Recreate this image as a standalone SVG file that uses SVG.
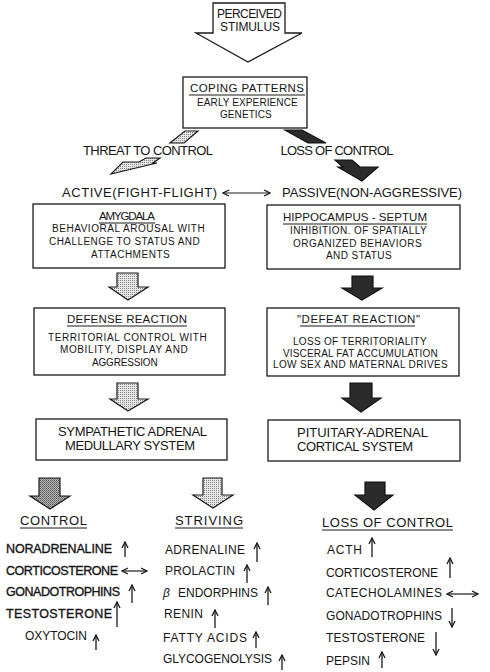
<svg xmlns="http://www.w3.org/2000/svg" width="490" height="672" viewBox="0 0 490 672">
<style>
text{font-family:"Liberation Sans",Arial,sans-serif;fill:#151515}
.box{fill:#fff;stroke:#1a1a1a;stroke-width:1.3}
.t{font-size:11.5px;text-anchor:middle}
.b{font-size:10px;text-anchor:middle;letter-spacing:0.3px}
.s{font-size:13px}
.h{font-size:13px}
.l{font-size:12px}
.lb{font-size:12.5px;stroke:#151515;stroke-width:0.35}
.ul{stroke:#1a1a1a;stroke-width:1.1}
.dot{fill:url(#dots);stroke:#1a1a1a;stroke-width:1.2}
.dark{fill:#2b2b2b;stroke:#111;stroke-width:1.2}
.cross{fill:url(#cross);stroke:#1a1a1a;stroke-width:1.2}
.ar{stroke:#1a1a1a;stroke-width:1.3;fill:none;marker-end:url(#ah)}
.da{stroke:#1a1a1a;stroke-width:1.2;fill:none;marker-end:url(#ah);marker-start:url(#ahs)}
</style>
<defs>
<pattern id="dots" width="2" height="2" patternUnits="userSpaceOnUse">
<rect width="2" height="2" fill="#e6e6e6"/>
<rect width="1" height="1" fill="#8a8a8a"/>
</pattern>
<pattern id="cross" width="2" height="2" patternUnits="userSpaceOnUse">
<rect width="2" height="2" fill="#b5b5b5"/>
<rect width="1" height="1" fill="#555"/>
<rect x="1" y="1" width="1" height="1" fill="#777"/>
</pattern>
<marker id="ah" viewBox="0 0 8 8" refX="7" refY="4" markerWidth="8" markerHeight="8" markerUnits="userSpaceOnUse" orient="auto">
<path d="M1,1 L7,4 L1,7" fill="none" stroke="#1a1a1a" stroke-width="1.3"/>
</marker>
<marker id="ahs" viewBox="0 0 8 8" refX="7" refY="4" markerWidth="8" markerHeight="8" markerUnits="userSpaceOnUse" orient="auto-start-reverse">
<path d="M1,1 L7,4 L1,7" fill="none" stroke="#1a1a1a" stroke-width="1.3"/>
</marker>
</defs>

<g id="stimulus">
<polygon points="213,3 285,3 285,33 302,33 248,62 196,33 213,33" fill="#fff" stroke="#1a1a1a" stroke-width="1.3"/>
<text x="249.5" y="18" font-size="12" text-anchor="middle" textLength="65">PERCEIVED</text>
<text x="250" y="31" font-size="12" text-anchor="middle" textLength="60">STIMULUS</text>
</g>

<g id="coping">
<rect class="box" x="183" y="77" width="124" height="51"/>
<text x="247" y="92" class="t" font-size="12.5" textLength="114">COPING PATTERNS</text>
<line class="ul" x1="189" y1="95" x2="305" y2="95"/>
<text x="247.5" y="106" class="b" textLength="101">EARLY EXPERIENCE</text>
<text x="246" y="118" class="b" textLength="52">GENETICS</text>
</g>

<g id="threat">
<text class="h" x="148" y="155" text-anchor="middle" textLength="130">THREAT TO CONTROL</text>
</g>
<g id="loss">
<text class="h" x="337" y="155" text-anchor="middle" textLength="113">LOSS OF CONTROL</text>
</g>

<g id="active">
<text class="h" x="62" y="197" textLength="155">ACTIVE(FIGHT-FLIGHT)</text>
</g>
<g id="passive">
<text class="h" x="282" y="197" textLength="180">PASSIVE(NON-AGGRESSIVE)</text>
</g>

<g id="amygdala">
<rect class="box" x="33" y="204" width="192" height="64"/>
<text x="127" y="220" class="t" font-size="10.5" textLength="56">AMYGDALA</text>
<line class="ul" x1="99" y1="223" x2="155" y2="223"/>
<text x="128.5" y="232" class="b" textLength="153">BEHAVIORAL AROUSAL WITH</text>
<text x="124.5" y="245" class="b" textLength="151">CHALLENGE TO STATUS AND</text>
<text x="130.5" y="258" class="b" textLength="79">ATTACHMENTS</text>
</g>

<g id="hippocampus">
<rect class="box" x="267" y="205" width="193" height="64"/>
<text x="355" y="221" class="t" textLength="144">HIPPOCAMPUS - SEPTUM</text>
<line class="ul" x1="283" y1="224" x2="427" y2="224"/>
<text x="358.5" y="234" class="b" textLength="137">INHIBITION. OF SPATIALLY</text>
<text x="357.5" y="247" class="b" textLength="129">ORGANIZED BEHAVIORS</text>
<text x="359" y="259" class="b" textLength="66">AND STATUS</text>
</g>

<g id="defense">
<rect class="box" x="34" y="308" width="191" height="67"/>
<text x="127" y="323" class="t" textLength="120">DEFENSE REACTION</text>
<line class="ul" x1="67" y1="326" x2="187" y2="326"/>
<text x="127.5" y="341" class="b" textLength="159">TERRITORIAL CONTROL WITH</text>
<text x="124" y="353" class="b" textLength="128">MOBILITY, DISPLAY AND</text>
<text x="125" y="366" class="b" textLength="66">AGGRESSION</text>
</g>

<g id="defeat">
<rect class="box" x="267" y="308" width="192" height="68"/>
<text x="358.5" y="323" class="t" textLength="123">"DEFEAT REACTION"</text>
<line class="ul" x1="300" y1="326" x2="415" y2="326"/>
<text x="360" y="345" class="b" textLength="134">LOSS OF TERRITORIALITY</text>
<text x="360.5" y="357" class="b" textLength="155">VISCERAL FAT ACCUMULATION</text>
<text x="360.5" y="368" class="b" textLength="175">LOW SEX AND MATERNAL DRIVES</text>
</g>

<g id="sympathetic">
<rect class="box" x="36" y="419" width="191" height="41"/>
<text class="s" x="132.5" y="436" text-anchor="middle" textLength="149">SYMPATHETIC ADRENAL</text>
<text class="s" x="130" y="450" text-anchor="middle" textLength="130">MEDULLARY SYSTEM</text>
</g>

<g id="pituitary">
<rect class="box" x="268" y="420" width="192" height="41"/>
<text class="s" x="297" y="437" textLength="131">PITUITARY-ADRENAL</text>
<text class="s" x="297" y="451" textLength="116">CORTICAL SYSTEM</text>
</g>

<g id="control">
<text class="h" x="20" y="525" textLength="67">CONTROL</text>
<line class="ul" x1="20" y1="528" x2="87" y2="528"/>
<text class="lb" x="6" y="553" textLength="106">NORADRENALINE</text>
<text class="lb" x="6" y="575" textLength="112">CORTICOSTERONE</text>
<text class="lb" x="6" y="596" textLength="114">GONADOTROPHINS</text>
<text class="lb" x="6" y="618" textLength="106">TESTOSTERONE</text>
<text class="l" x="25" y="640" textLength="62">OXYTOCIN</text>
</g>

<g id="striving">
<text class="h" x="175" y="525" textLength="68">STRIVING</text>
<line class="ul" x1="175" y1="528" x2="243" y2="528"/>
<text class="l" x="165" y="554" textLength="80">ADRENALINE</text>
<text class="l" x="165" y="575" textLength="70">PROLACTIN</text>
<text class="l" x="163" y="597" font-style="italic">β</text>
<text class="l" x="178" y="597" textLength="80">ENDORPHINS</text>
<text class="l" x="164" y="618" textLength="39">RENIN</text>
<text class="l" x="163" y="642" textLength="84">FATTY ACIDS</text>
<text class="l" x="163" y="663" textLength="109">GLYCOGENOLYSIS</text>
</g>

<g id="loss-of-control">
<text class="h" x="322" y="527" textLength="131">LOSS OF CONTROL</text>
<line class="ul" x1="322" y1="530" x2="453" y2="530"/>
<text class="l" x="327" y="554" textLength="35">ACTH</text>
<text class="l" x="326" y="577" textLength="112">CORTICOSTERONE</text>
<text class="l" x="326" y="597" textLength="116">CATECHOLAMINES</text>
<text class="l" x="326" y="620" textLength="116">GONADOTROPHINS</text>
<text class="l" x="326" y="642" textLength="99">TESTOSTERONE</text>
<text class="l" x="326" y="665" textLength="44">PEPSIN</text>
</g>

<g id="connectors">
<polygon class="dot" points="185,131 198,131 184,143 170,143"/>
<polygon class="dot" points="146,158 160,158 153,163 157,163 111,174 123,162 139,162"/>
<polygon class="dark" points="285,130 302,130 326,143 308,143"/>
<polygon class="dark" points="335,160 352,160 360,167 378,167 362,181 338,167 343,167"/>
<line class="da" x1="223" y1="193" x2="270" y2="193"/>
<polygon class="dot" points="117,273 138,273 138,287 148,287 128,300 109,287 117,287"/>
<polygon class="dot" points="117,383 138,383 138,399 148,399 128,411 110,399 117,399"/>
<polygon class="dark" points="352,276 373,276 373,288 382,288 362,300 342,288 352,288"/>
<polygon class="dark" points="350,383 372,383 372,398 381,398 361,412 342,398 350,398"/>
<polygon class="cross" points="39,478 60,478 60,496 70,496 50,509 30,496 39,496"/>
<polygon class="dot" points="203,478 222,478 222,495 233,495 213,508 193,495 203,495"/>
<polygon class="dark" points="365,482 385,482 385,495 393,495 374,510 355,495 365,495"/>
<line class="ar" x1="125" y1="557" x2="125" y2="542"/>
<line class="da" x1="122" y1="571" x2="147" y2="571"/>
<line class="ar" x1="132" y1="603" x2="132" y2="585"/>
<line class="ar" x1="117" y1="627" x2="117" y2="602"/>
<line class="ar" x1="96" y1="650" x2="96" y2="635"/>
<line class="ar" x1="257" y1="562" x2="257" y2="543"/>
<line class="ar" x1="247" y1="583" x2="247" y2="565"/>
<line class="ar" x1="268" y1="605" x2="268" y2="587"/>
<line class="ar" x1="215" y1="628" x2="215" y2="610"/>
<line class="ar" x1="256" y1="648" x2="256" y2="632"/>
<line class="ar" x1="282" y1="670" x2="282" y2="655"/>
<line class="ar" x1="372" y1="557" x2="372" y2="538"/>
<line class="ar" x1="450" y1="578" x2="450" y2="558"/>
<line class="da" x1="447" y1="594" x2="478" y2="594"/>
<line class="ar" x1="452" y1="608" x2="452" y2="627"/>
<line class="ar" x1="436" y1="632" x2="436" y2="655"/>
<line class="ar" x1="382" y1="668" x2="382" y2="652"/>
</g>
</svg>
